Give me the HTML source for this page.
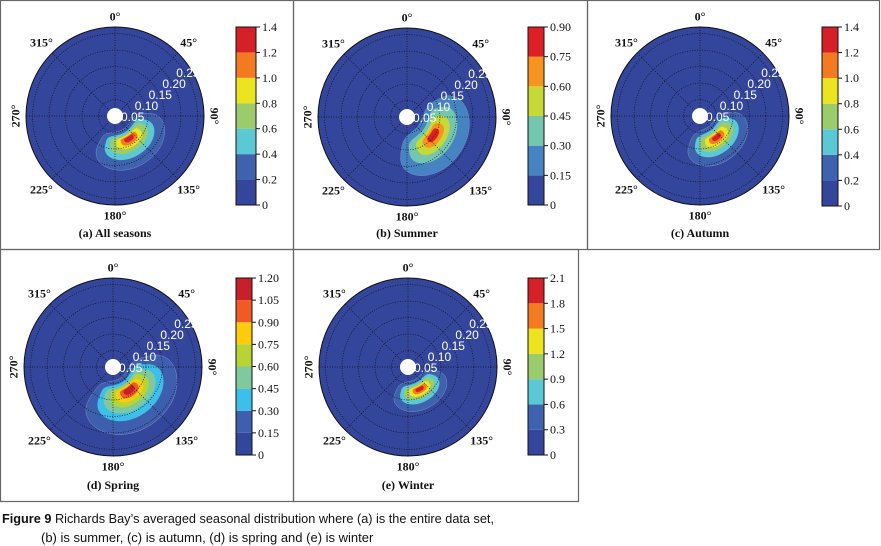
<!DOCTYPE html>
<html><head><meta charset="utf-8"><style>
body{margin:0;background:#fff;width:881px;height:546px;overflow:hidden}
svg{display:block}
</style></head><body>
<svg id="fig" width="881" height="546" viewBox="0 0 881 546" xmlns="http://www.w3.org/2000/svg">
<g fill="none" stroke="#666" stroke-width="1.2">
<rect x="0.5" y="0.5" width="293" height="249"/>
<rect x="293.5" y="0.5" width="294" height="249"/>
<rect x="587.5" y="0.5" width="292" height="249"/>
<rect x="0.5" y="249.5" width="293" height="252"/>
<rect x="293.5" y="249.5" width="285" height="252"/>
</g>
<text x="2" y="523" textLength="492" lengthAdjust="spacingAndGlyphs" font-family="'Liberation Sans Narrow','Liberation Sans',sans-serif" font-size="13" fill="#111"><tspan font-weight="bold">Figure 9</tspan> Richards Bay’s averaged seasonal distribution where (a) is the entire data set,</text>
<text x="41" y="542" font-family="'Liberation Sans Narrow','Liberation Sans',sans-serif" font-size="13" fill="#111">(b) is summer, (c) is autumn, (d) is spring and (e) is winter</text>
</svg>
<script>
// ---- data ----
const panelTitles = ["(a) All seasons","(b) Summer","(c) Autumn","(d) Spring","(e) Winter"];
const levelsA = [0,0.2,0.4,0.6,0.8,1.0,1.2,1.4];
const levelsB = [0,0.15,0.30,0.45,0.60,0.75,0.90];
const levelsC = [0,0.2,0.4,0.6,0.8,1.0,1.2,1.4];
const levelsD = [0,0.15,0.30,0.45,0.60,0.75,0.90,1.05,1.20];
const levelsE = [0,0.3,0.6,0.9,1.2,1.5,1.8,2.1];
const tickLabelsA = ["0","0.2","0.4","0.6","0.8","1.0","1.2","1.4"];
const tickLabelsB = ["0","0.15","0.30","0.45","0.60","0.75","0.90"];
const tickLabelsC = ["0","0.2","0.4","0.6","0.8","1.0","1.2","1.4"];
const tickLabelsD = ["0","0.15","0.30","0.45","0.60","0.75","0.90","1.05","1.20"];
const tickLabelsE = ["0","0.3","0.6","0.9","1.2","1.5","1.8","2.1"];
// density peak value, radial centre, direction centre (deg), outward / inward radial spread, angular spread (deg)
const peakValues = [1.55, 1.0, 1.55, 1.35, 2.35];
const peakRadius = [0.078, 0.095, 0.080, 0.082, 0.074];
const peakDirection = [148, 125, 142, 145, 152];
const radialSpreadOut = [0.044, 0.052, 0.038, 0.058, 0.031];
const radialSpreadIn = [0.015, 0.027, 0.019, 0.019, 0.015];
const angularSpread = [44, 47, 41, 49, 38];
const ringValues = [0.05,0.10,0.15,0.20,0.25];
const angleLabels = ["0°","45°","90°","135°","180°","225°","270°","315°"];

const colorsA = ["#34469c","#3f62ae","#5bc8d5","#9bcb6a","#ece41f","#f37a21","#d62027"];
const colorsB = ["#34469c","#4583c3","#75c6ae","#c6d935","#f7941d","#dd1f26"];
const colorsD = ["#34469c","#3e5fad","#3cbfe8","#7fc99c","#b7d334","#fecc0c","#f05a24","#c8202a"];
const colorsE = ["#34469c","#3f62ae","#5bc8d5","#9bcb6a","#ece41f","#f37a21","#d62027"];

const layout = [
 {cx:115,cy:116,bx:236,bw:20,by:27,bh:178,ty:237},
 {cx:407,cy:117,bx:528,bw:16,by:27,bh:178,ty:237},
 {cx:700,cy:116,bx:822,bw:16,by:27,bh:179,ty:237},
 {cx:113,cy:367,bx:236,bw:16,by:278,bh:177,ty:489},
 {cx:408,cy:367,bx:528,bw:16,by:278,bh:177,ty:489}
];
const allLevels=[levelsA,levelsB,levelsC,levelsD,levelsE];
const allTicks=[tickLabelsA,tickLabelsB,tickLabelsC,tickLabelsD,tickLabelsE];
const allColors=[colorsA,colorsB,colorsA,colorsD,colorsE];
const R=89, RMAX=0.27, SQ=0.7;
const NS="http://www.w3.org/2000/svg";
const svg=document.getElementById('fig');
function mk(tag,attrs,parent){const e=document.createElementNS(NS,tag);for(const k in attrs)e.setAttribute(k,attrs[k]);(parent||svg).appendChild(e);return e;}
const SERIF="'Liberation Serif',serif";
const sp=(v)=>Math.sign(v)*Math.pow(Math.abs(v),SQ);

for(let p=0;p<5;p++){
 const L=layout[p],lv=allLevels[p],cols=allColors[p],tk=allTicks[p];
 const g=mk('g',{});
 
 
 const rScale=v=>v/RMAX*R;
 const pt=(r,deg)=>{const a=deg*Math.PI/180;return [L.cx+rScale(r)*Math.sin(a), L.cy-rScale(r)*Math.cos(a)];};
 const bg=mk('circle',{cx:L.cx,cy:L.cy,r:R,fill:cols[0],stroke:'#111','stroke-width':1},g);
 
 
 for(let k=1;k<lv.length-1;k++){
  const ratio=peakValues[p]/lv[k]; if(ratio<=1)continue;
  const a=Math.log(ratio), aw=a<1?a:Math.sqrt(a);
  let d='';
  for(let i=0;i<=200;i++){const t=i/200*2*Math.PI;
   const c=sp(Math.cos(t)), s=sp(Math.sin(t));
   let r=peakRadius[p]+(c>0?radialSpreadOut[p]:radialSpreadIn[p])*a*c; if(r<0.012)r=0.012;
   const th=peakDirection[p]+angularSpread[p]*aw*s;
   const q=pt(r,th); d+=(i?'L':'M')+q[0].toFixed(1)+' '+q[1].toFixed(1);}
  const c=mk('path',{d:d+'Z',fill:cols[k],stroke:k==1?'#8090c8':'none','stroke-width':0.5},g);
  
  
 }
 ringValues.forEach(v=>{const c=mk('circle',{cx:L.cx,cy:L.cy,r:rScale(v),fill:'none',stroke:'#111','stroke-width':0.7,'stroke-dasharray':'1 1.5'},g);
  
  });
 for(let i=0;i<8;i++){const q=pt(RMAX,i*45);const l=mk('line',{x1:L.cx,y1:L.cy,x2:q[0],y2:q[1],stroke:'#111','stroke-width':0.7,'stroke-dasharray':'1 1.5'},g);
  
  }
 const hole=mk('circle',{cx:L.cx,cy:L.cy,r:8,fill:'#fff'},g);
 
 
 ringValues.forEach((v,i)=>{const t=mk('text',{x:L.cx+6+13.8*i,y:L.cy+5-11*i,fill:'#fff','font-family':"'Liberation Sans',sans-serif",'font-size':12},g);
  t.textContent=v.toFixed(2);
  
  });
 angleLabels.forEach((s,i)=>{const deg=i*45;const q=pt(RMAX*(i%2?1.17:1.12),deg);
  const attrs={x:q[0],y:q[1]+4,'text-anchor':'middle','font-family':SERIF,'font-size':12,'font-weight':'bold',fill:'#111'};
  if(i==2||i==6){attrs.transform=`rotate(${i==2?90:-90} ${q[0]} ${q[1]})`;}
  const t=mk('text',attrs,g);t.textContent=s;
  
  });
 const n=lv.length-1,vmax=lv[n];
 const yS=v=>L.by+L.bh-v/vmax*L.bh;
 for(let k=0;k<n;k++){const r=mk('rect',{x:L.bx,y:yS(lv[k+1]),width:L.bw,height:yS(lv[k])-yS(lv[k+1]),fill:cols[k]},g);
  
  }
 const fr=mk('rect',{x:L.bx,y:L.by,width:L.bw,height:L.bh,fill:'none',stroke:'#111','stroke-width':1},g);
 
 
 tk.forEach((s,i)=>{const y=yS(lv[i]);mk('line',{x1:L.bx+L.bw,y1:y,x2:L.bx+L.bw+4,y2:y,stroke:'#111'},g);
  const t=mk('text',{x:L.bx+L.bw+6,y:y+4,'font-family':SERIF,'font-size':12,fill:'#111'},g);t.textContent=s;
  
  });
 const tt=mk('text',{x:L.cx,y:L.ty,'text-anchor':'middle','font-family':SERIF,'font-size':12,'font-weight':'bold',fill:'#111'},g);
 tt.textContent=panelTitles[p];
 
 
}
</script>
</body></html>
